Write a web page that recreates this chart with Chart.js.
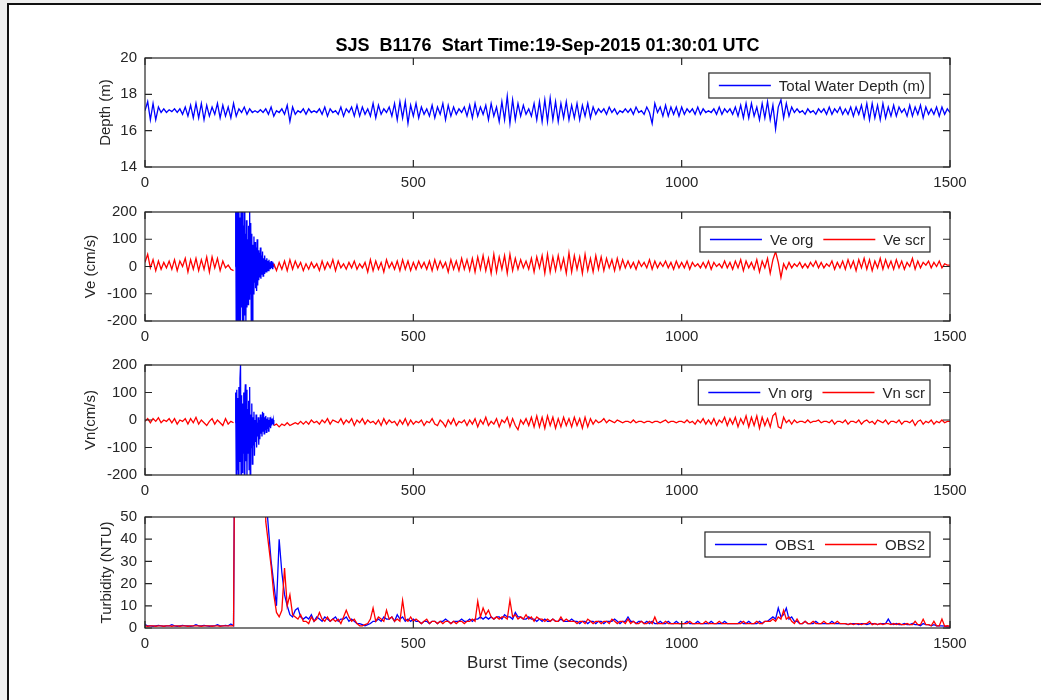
<!DOCTYPE html>
<html>
<head>
<meta charset="utf-8">
<script src="https://cdn.jsdelivr.net/npm/chart.js@4.4.1/dist/chart.umd.min.js"></script>
<style>
  html, body { margin: 0; padding: 0; background: #efefef; }
  #page { position: relative; width: 1041px; height: 700px; overflow: hidden; background: #efefef; }
  #frame { position: absolute; left: 7px; top: 3px; width: 1100px; height: 760px; background: #fff;
           border-left: 2px solid #111; border-top: 2px solid #111; }
  canvas { position: absolute; left: 0; }
</style>
</head>
<body>
<div id="page">
  <div id="frame"></div>
  <canvas id="pDepth" width="1041" height="162" style="top:35px"></canvas>
  <canvas id="pVe" width="1041" height="156" style="top:195px"></canvas>
  <canvas id="pVn" width="1041" height="157" style="top:348px"></canvas>
  <canvas id="pTurb" width="1041" height="178" style="top:500px"></canvas>
</div>
<script>
// sample times (s), one reading every 5 s over the 1500 s burst
const timeSec = Array.from({ length: 301 }, (_, i) => i * 5);
// dense window where the unscreened velocities blow up
const burstSec = Array.from({ length: 73 }, (_, i) => 168 + i);

const depthM = [
  17.1, 17.6, 16.6, 17.5, 16.6, 17.3, 17.0, 17.2, 17.0, 17.15, 17.05, 17.2, 17.0, 17.2, 16.9, 17.3, 16.8, 17.4, 16.7, 17.5,
  16.7, 17.5, 16.6, 17.4, 16.8, 17.3, 16.9, 17.5, 16.7, 17.4, 16.8, 17.3, 16.7, 17.5, 16.8, 17.2, 17.0, 17.3, 16.9, 17.2,
  17.0, 17.1, 17.0, 17.15, 17.0, 17.2, 16.9, 17.3, 16.8, 17.1, 17.0, 17.2, 16.9, 17.4, 16.5, 17.3, 16.9, 17.1, 17.0, 17.2,
  16.9, 17.2, 17.0, 17.1, 17.0, 17.2, 16.9, 17.3, 16.8, 17.2, 17.0, 17.1, 16.9, 17.3, 16.8, 17.2, 17.0, 17.3, 16.8, 17.4,
  16.8, 17.3, 16.9, 17.2, 16.8, 17.5, 16.7, 17.4, 16.9, 17.2, 17.0, 17.3, 16.8, 17.5, 16.6, 17.6, 16.7, 17.6, 16.4, 17.4,
  16.8, 17.5, 16.7, 17.3, 16.9, 17.2, 16.8, 17.4, 16.7, 17.3, 16.9, 17.5, 16.6, 17.4, 16.8, 17.3, 16.9, 17.2, 17.0, 17.3,
  16.8, 17.4, 16.7, 17.5, 16.8, 17.3, 16.9, 17.4, 16.6, 17.5, 16.8, 17.3, 16.5, 17.6, 16.6, 17.9, 16.4, 17.7, 16.6, 17.5,
  16.8, 17.4, 16.9, 17.2, 16.8, 17.5, 16.6, 17.6, 16.5, 17.7, 16.5, 17.8, 16.6, 17.6, 16.5, 17.5, 16.7, 17.6, 16.6, 17.4,
  16.7, 17.5, 16.6, 17.4, 16.8, 17.5, 16.7, 17.3, 16.9, 17.2, 17.0, 17.2, 16.9, 17.3, 17.0, 17.2, 16.9, 17.1, 17.0, 17.2,
  17.0, 17.2, 16.9, 17.3, 17.0, 17.1, 16.9, 17.3, 17.0, 16.4, 17.5, 17.0, 17.3, 16.8, 17.4, 16.8, 17.3, 16.9, 17.3, 16.8,
  17.3, 16.9, 17.2, 17.0, 17.2, 16.9, 17.3, 16.9, 17.2, 17.0, 17.1, 17.0, 17.2, 16.9, 17.3, 16.9, 17.2, 17.0, 17.2, 16.9,
  17.3, 16.8, 17.4, 16.7, 17.5, 16.7, 17.5, 16.8, 17.3, 16.6, 17.5, 16.7, 17.6, 16.6, 17.4, 16.1, 17.3, 17.7, 16.7, 17.5,
  16.8, 17.3, 17.0, 17.2, 17.0, 17.1, 16.9, 17.2, 17.0, 17.1, 16.9, 17.2, 17.0, 17.2, 16.9, 17.3, 16.9, 17.2, 17.0, 17.3,
  16.9, 17.2, 16.9, 17.3, 16.8, 17.3, 16.9, 17.4, 16.7, 17.5, 16.6, 17.5, 16.7, 17.4, 16.6, 17.5, 16.7, 17.3, 16.8, 17.4,
  16.8, 17.3, 17.0, 17.2, 16.8, 17.4, 16.8, 17.3, 16.9, 17.4, 16.7, 17.3, 16.9, 17.2, 16.9, 17.3, 16.8, 17.3, 16.9, 17.2,
  17.0
];

const veScr = [
  15, 45, -5, 25, -15, 20, -10, 15, -5, 20, -10, 25, -15, 20, 0, 30, -20, 25, -10, 30,
  -15, 25, -10, 35, -20, 35, -5, 30, -15, 20, -5, 5, -10, -15, null, null, null, null, null, null,
  null, null, null, null, null, null, null, null, 10, -15, 15, -10, 20, -15, 25, -10, 20, -5, 15, -15,
  10, -10, 15, -5, 10, -15, 20, -10, 15, -5, 25, -15, 20, -5, 10, -10, 15, -5, 20, -10,
  10, -5, 15, -20, 25, -15, 20, -10, 15, -20, 25, -5, 15, -10, 20, -15, 25, -10, 20, -15,
  15, -10, 20, -5, 15, -10, 20, -15, 25, -10, 20, -5, 15, -20, 25, -10, 20, -15, 30, -10,
  25, -15, 30, -20, 35, -10, 40, -15, 30, -25, 45, -20, 35, -10, 40, -25, 45, -15, 30, -10,
  25, -5, 20, -10, 30, -20, 35, -5, 40, -25, 45, -20, 35, -15, 40, -10, 30, -25, 50, -20,
  40, -10, 35, -25, 45, -15, 30, -20, 40, -10, 35, -15, 30, -5, 25, -15, 30, -10, 25, -5,
  20, -5, 15, -10, 20, 0, 15, -5, 25, -10, 20, -5, 15, 0, 20, -5, 15, -10, 20, -5,
  15, -5, 20, -10, 15, 0, 10, -5, 15, -5, 20, -10, 15, 0, 10, -5, 20, -5, 15, -10,
  20, -5, 25, -15, 20, -5, 15, -10, 25, -20, 20, -5, 30, -25, 25, 55, 15, -40, 10, -10,
  15, -5, 10, 0, 15, -5, 10, -5, 15, 0, 20, -5, 15, -5, 10, 0, 20, -10, 15, -5,
  20, -10, 25, -5, 20, -15, 25, -5, 30, -10, 25, -15, 20, -5, 30, -10, 25, -5, 20, -10,
  25, -5, 20, -10, 15, 0, 30, -10, 20, -5, 15, 5, 20, -5, 15, 0, 20, -5, 10, 5,
  5
];

const veOrg = [
  0, 250, -250, 220, -240, 260, -200, 240, -260, 180, -230, 250, -150, 200, -250, 150, -220, 230, -180, 120,
  -200, 170, -150, 100, -140, 150, -120, 210, -100, 160, -220, 120, -230, 80, -100, 110, -60, 90, -80, 70,
  -90, 100, -70, 60, -50, 50, -40, 70, -45, 40, -30, 55, -35, 30, -25, 40, -20, 25, -20, 30,
  -15, 20, -15, 25, -10, 15, -10, 20, -5, 15, -10, 10, 5
];

const vnScr = [
  -5, 5, -10, 5, -5, 8, -10, 0, -5, 5, -10, 5, -15, 0, -5, 5, -15, 5, -10, 10,
  -15, 0, -10, -20, -5, 5, -15, 0, -10, -20, 5, -15, -5, -10, null, null, null, null, null, null,
  null, null, null, null, null, null, null, null, -20, -15, -25, -15, -20, -10, -20, -15, -10, -15, -5, -15,
  -5, -15, 0, -10, -5, -15, 0, -10, 5, -15, 0, -5, -10, 5, -15, 0, -10, 5, -20, 0,
  -10, 5, -15, 0, -10, -5, -15, 0, -20, 5, -15, 0, -10, -5, -20, 0, -15, 5, -20, 0,
  -15, -5, -10, 0, -20, -5, -10, 5, -15, -20, 0, -10, -25, 0, -15, 5, -20, -5, -10, 0,
  -20, 0, -15, 5, -25, 0, -15, 10, -20, -5, -15, 5, -25, 0, -10, 10, -25, 5, -20, -35,
  0, -15, 5, -20, 10, -25, 15, -25, 10, -30, 15, -20, 10, -30, 5, -25, 10, -20, 5, -25,
  10, -20, 5, -30, 10, -25, 5, -15, 0, -10, -5, 5, -10, 0, -5, -10, 0, -5, -10, -5,
  -5, -10, 0, -10, -5, -5, -10, -5, -5, -10, -5, -5, -10, -5, 0, -10, -5, -5, -10, -5,
  -5, -10, 0, -10, -5, -15, 0, -10, 5, -15, 0, -15, 5, -20, 0, -10, 10, -20, 5, -15,
  10, -25, 5, -15, 15, -25, 10, -20, 15, -30, 10, -20, 5, -25, 15, 25, -25, -30, 10, -10,
  0, -15, 0, -10, -5, -5, -10, 0, -10, -5, -5, 0, -10, -5, -5, -10, 0, -15, -5, -5,
  -10, 0, -15, -5, -5, -10, 0, -15, -5, 0, -10, -5, -15, 0, -5, -10, 0, -15, -5, -5,
  -10, 0, -15, -5, -5, -10, 0, -20, -5, 0, -15, -5, -10, 0, -15, -5, -10, 0, -10, -5,
  -5
];

const vnOrg = [
  -10, 100, -200, 110, -180, 80, -220, 120, -150, 150, 200, -210, 90, -190, 60, -120, 100, -200, 80, 130,
  -150, 110, -210, 40, -120, 70, -180, 120, -220, 20, -100, 60, -160, 10, -90, 30, -130, 0, -80, 20,
  -100, -10, -60, 10, -90, 0, -70, 20, -50, 10, -60, 30, -40, 25, -50, 10, -35, 15, -45, 5,
  -30, 10, -40, 0, -25, 10, -30, -5, -20, 5, -15, 0, -20
];

const obs1 = [
  1.5, 1, 1, 0.8, 1, 1.2, 1, 0.8, 1, 1, 1.5, 1, 0.8, 1, 1.2, 1, 1, 0.8, 1, 1.5,
  1, 1, 1.2, 1, 0.8, 1, 1, 1.5, 1, 1, 1.2, 1, 1.8, 1, 200, 200, 200, 200, 200, 200,
  200, 200, 200, 200, 200, 60, 45, 30, 20, 10, 40, 25, 15, 10, 6, 5, 8, 9, 5, 4,
  5, 4, 6, 3, 5, 4, 3, 5, 4, 3, 4, 5, 3, 4, 4, 5, 3, 4, 3, 2,
  2, 1.5, 1, 1.5, 2, 3, 3, 4, 3, 5, 4, 4, 5, 3, 6, 4, 5, 3, 4, 3,
  4, 3, 3, 2, 3, 3, 2, 3, 3, 2, 3, 3, 4, 3, 2, 3, 3, 3, 4, 3,
  3, 4, 3, 4, 4, 5, 4, 5, 4, 5, 4, 5, 5, 4, 6, 5, 5, 4, 7, 5,
  5, 4, 4, 5, 4, 4, 3, 4, 3, 4, 3, 3, 4, 3, 3, 4, 3, 3, 3, 4,
  3, 3, 2, 3, 3, 2, 3, 3, 2, 3, 3, 2, 3, 3, 3, 4, 3, 2, 3, 3,
  5, 3, 3, 2, 3, 3, 2, 3, 2, 3, 2, 2, 3, 2, 2, 3, 2, 2, 3, 2,
  2, 2, 3, 2, 2, 2, 3, 2, 2, 2, 2, 3, 2, 2, 2, 2, 3, 2, 2, 2,
  2, 2, 3, 2, 2, 3, 2, 2, 2, 3, 2, 3, 3, 4, 5, 4, 9, 5, 6, 9,
  4, 5, 3, 3, 2, 2, 3, 2, 2, 2, 3, 2, 2, 2, 2, 2, 3, 2, 2, 2,
  2, 2, 1.5, 2, 2, 2, 1.5, 2, 2, 1.5, 2, 2, 2, 1.5, 2, 2, 2, 4, 2, 1.5,
  2, 1.5, 1.5, 2, 1.5, 1.5, 2, 1.5, 1.5, 1, 2, 1.5, 1.5, 1, 1.5, 1, 1, 1, 0.8, 0.5,
  0.5
];

const obs2 = [
  1, 0.8, 1, 1, 0.8, 1, 1, 0.8, 1, 1, 0.8, 1, 1, 0.8, 1, 1, 0.8, 1, 1, 1,
  1, 0.8, 1, 1, 1, 0.8, 1, 1, 0.8, 1, 1, 1, 1, 1, 200, 200, 200, 200, 200, 200,
  200, 200, 200, 200, 200, 48, 38, 28, 15, 7, 5, 8, 27, 10, 15, 6, 5, 4, 6, 3,
  3, 2, 5, 3, 4, 7, 4, 3, 5, 3, 4, 3, 4, 2, 5, 8, 5, 3, 4, 2,
  1, 1, 1.5, 2, 4, 9, 3, 5, 4, 3, 8, 4, 5, 3, 4, 3, 12.5, 4, 3, 5,
  3, 4, 3, 2, 3, 4, 2, 3, 3, 2, 3, 2, 3, 3, 2, 3, 2, 3, 3, 2,
  3, 3, 4, 3, 12, 5, 9, 6, 8, 5, 4, 5, 4, 5, 5, 4, 12.5, 5, 6, 4,
  5, 4, 6, 4, 5, 3, 5, 4, 4, 3, 4, 3, 4, 3, 3, 5, 3, 4, 3, 3,
  3, 2, 3, 3, 2, 4, 3, 2, 3, 3, 2, 3, 3, 2, 4, 3, 2, 3, 3, 2,
  4, 2, 3, 2, 2, 3, 2, 2, 3, 2, 5, 2, 2, 2, 3, 2, 2, 2, 2, 2,
  2, 2, 2, 3, 2, 2, 2, 2, 2, 3, 2, 2, 2, 2, 3, 2, 2, 2, 2, 2,
  2, 2, 2, 3, 2, 2, 2, 2, 3, 2, 2, 3, 3, 3, 4, 3, 5, 4, 8, 4,
  5, 3, 2, 4, 2, 2, 3, 2, 2, 3, 2, 2, 2, 3, 2, 2, 2, 2, 3, 2,
  2, 2, 1.5, 2, 1.5, 2, 2, 1.5, 2, 2, 3, 1.5, 2, 1.5, 2, 1.5, 2, 2, 1.5, 2,
  1.5, 2, 1.5, 1.5, 2, 1.5, 1.5, 3, 1.5, 1.5, 4, 1.5, 1.5, 1, 3, 1, 1, 4, 0.8, 1,
  0.8
];

const BLUE = '#0000ff';
const RED = '#ff0000';
const INK = '#262626';

Chart.defaults.font.family = '"Liberation Sans", Arial, Helvetica, sans-serif';
Chart.defaults.color = INK;

const pts = (xs, ys) => xs.map((x, i) => ({ x: x, y: ys[i] }));
const plain = v => String(v);

// matlab style box with inward ticks on all four sides
const boxAxes = {
  id: 'boxAxes',
  afterDatasetsDraw(chart) {
    const { ctx, chartArea: a, scales } = chart;
    const x = scales.x, y = scales.y;
    ctx.save();
    ctx.strokeStyle = INK;
    ctx.lineWidth = 1.2;
    ctx.strokeRect(a.left, a.top, a.right - a.left, a.bottom - a.top);
    ctx.beginPath();
    x.ticks.forEach(t => {
      const px = x.getPixelForValue(t.value);
      ctx.moveTo(px, a.bottom); ctx.lineTo(px, a.bottom - 7);
      ctx.moveTo(px, a.top); ctx.lineTo(px, a.top + 7);
    });
    y.ticks.forEach(t => {
      const py = y.getPixelForValue(t.value);
      ctx.moveTo(a.left, py); ctx.lineTo(a.left + 7, py);
      ctx.moveTo(a.right, py); ctx.lineTo(a.right - 7, py);
    });
    ctx.stroke();
    ctx.restore();
  }
};

// boxed legend in the top right corner of the plot
const boxLegend = {
  id: 'boxLegend',
  afterDraw(chart) {
    const { ctx, chartArea: a } = chart;
    const sets = chart.data.datasets;
    ctx.save();
    ctx.font = '15px "Liberation Sans", Arial, sans-serif';
    const lineLen = 52, gap = 8, between = 10, padL = 10, padR = 5, h = 25;
    let w = padL + padR;
    sets.forEach((d, i) => {
      w += lineLen + gap + ctx.measureText(d.label).width + (i > 0 ? between : 0);
    });
    const right = a.right - 20, top = a.top + 15, left = right - w;
    ctx.fillStyle = '#fff';
    ctx.fillRect(left, top, w, h);
    ctx.strokeStyle = INK;
    ctx.lineWidth = 1.2;
    ctx.strokeRect(left, top, w, h);
    const cy = top + h / 2;
    let cx = left + padL;
    sets.forEach((d, i) => {
      if (i > 0) cx += between;
      ctx.strokeStyle = d.borderColor;
      ctx.lineWidth = 1.3;
      ctx.beginPath(); ctx.moveTo(cx, cy); ctx.lineTo(cx + lineLen, cy); ctx.stroke();
      cx += lineLen + gap;
      ctx.fillStyle = INK;
      ctx.textBaseline = 'middle';
      ctx.fillText(d.label, cx, cy + 1);
      cx += ctx.measureText(d.label).width;
    });
    ctx.restore();
  }
};

function makePanel(id, cfg) {
  return new Chart(document.getElementById(id), {
    type: 'line',
    data: { datasets: cfg.datasets },
    options: {
      responsive: false,
      animation: false,
      events: [],
      layout: { padding: { left: cfg.padLeft, right: 91, top: 0, bottom: 0 } },
      elements: { point: { radius: 0 }, line: { borderWidth: 1.3, tension: 0 } },
      plugins: {
        legend: { display: false },
        tooltip: { enabled: false },
        title: cfg.title || { display: false }
      },
      scales: {
        x: {
          type: 'linear', min: 0, max: 1500,
          grid: { display: false, drawTicks: false },
          border: { display: false },
          ticks: { stepSize: 500, padding: 7, autoSkip: false, maxRotation: 0, font: { size: 15 }, callback: plain },
          title: cfg.xTitle
            ? { display: true, text: cfg.xTitle, font: { size: 17, lineHeight: 1.2 }, padding: { top: 0, bottom: 4 } }
            : { display: false },
          afterFit: s => { s.height = cfg.xHeight; }
        },
        y: {
          min: cfg.yMin, max: cfg.yMax,
          grid: { display: false, drawTicks: false },
          border: { display: false },
          ticks: { stepSize: cfg.yStep, padding: 8, autoSkip: false, font: { size: 15 }, callback: plain },
          title: { display: true, text: cfg.yTitle, font: { size: 15 }, padding: { top: 0, bottom: 0 } },
          afterFit: s => { s.width = 145 - cfg.padLeft; }
        }
      }
    },
    plugins: [boxAxes, boxLegend]
  });
}

makePanel('pDepth', {
  padLeft: 97, xHeight: 30,
  yMin: 14, yMax: 20, yStep: 2, yTitle: 'Depth (m)',
  title: {
    display: true, fullSize: false,
    text: 'SJS  B1176  Start Time:19-Sep-2015 01:30:01 UTC',
    font: { size: 18, weight: 'bold', lineHeight: 1.2 }, color: '#000',
    padding: { top: 0, bottom: 1.4 }
  },
  datasets: [
    { label: 'Total Water Depth (m)', data: pts(timeSec, depthM), borderColor: BLUE }
  ]
});

makePanel('pVe', {
  padLeft: 82, xHeight: 30,
  yMin: -200, yMax: 200, yStep: 100, yTitle: 'Ve (cm/s)',
  datasets: [
    { label: 'Ve org', data: pts(burstSec, veOrg), borderColor: BLUE, order: 2 },
    { label: 'Ve scr', data: pts(timeSec, veScr), borderColor: RED, order: 1 }
  ]
});

makePanel('pVn', {
  padLeft: 82, xHeight: 30,
  yMin: -200, yMax: 200, yStep: 100, yTitle: 'Vn(cm/s)',
  datasets: [
    { label: 'Vn org', data: pts(burstSec, vnOrg), borderColor: BLUE, order: 2 },
    { label: 'Vn scr', data: pts(timeSec, vnScr), borderColor: RED, order: 1 }
  ]
});

makePanel('pTurb', {
  padLeft: 98, xHeight: 50,
  yMin: 0, yMax: 50, yStep: 10, yTitle: 'Turbidity (NTU)',
  xTitle: 'Burst Time (seconds)',
  datasets: [
    { label: 'OBS1', data: pts(timeSec, obs1), borderColor: BLUE, order: 2 },
    { label: 'OBS2', data: pts(timeSec, obs2), borderColor: RED, order: 1 }
  ]
});
</script>
</body>
</html>
